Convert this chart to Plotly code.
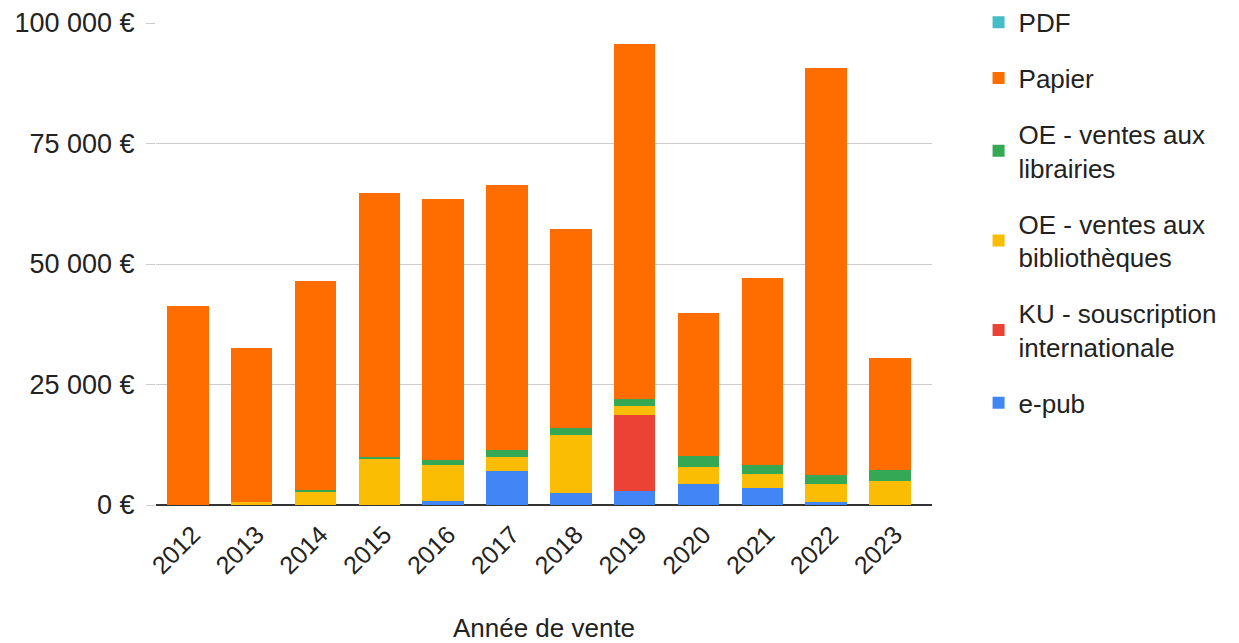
import plotly.graph_objects as go

years = ["2012", "2013", "2014", "2015", "2016", "2017",
         "2018", "2019", "2020", "2021", "2022", "2023"]

# montants en euros
epub = [0, 0, 0, 0, 800, 7050, 2400, 3000, 4400, 3500, 600, 0]
ku = [0, 0, 0, 0, 0, 0, 0, 15600, 0, 0, 0, 0]
oe_biblio = [0, 700, 2700, 9500, 7600, 2900, 12200, 1900, 3400, 2900, 3800, 4900]
oe_libr = [0, 0, 500, 500, 1000, 1400, 1400, 1500, 2400, 1900, 1900, 2400]
papier = [41300, 31900, 43300, 54700, 54100, 55050, 41300, 73600, 29600, 38800, 84400, 23200]
pdf = [0] * 12

y_ticks = [0, 25000, 50000, 75000, 100000]
y_labels = [f"{v:,}".replace(",", " ") + " €" for v in y_ticks]

series = [
    ("e-pub", epub, "#4285f4"),
    ("KU - souscription<br>internationale", ku, "#ea4335"),
    ("OE - ventes aux<br>bibliothèques", oe_biblio, "#fbbc04"),
    ("OE - ventes aux<br>librairies", oe_libr, "#34a853"),
    ("Papier", papier, "#ff6d01"),
    ("PDF", pdf, "#46bdc6"),
]

fig = go.Figure()
for i, (name, vals, color) in enumerate(series):
    fig.add_trace(go.Bar(
        x=years, y=vals, name=name,
        marker_color=color, marker_line_width=0,
        legendgroup=str(i), legendrank=len(series) - i,
    ))

fig.update_layout(
    barmode="stack",
    bargap=0.35,
    width=1231, height=635,
    margin=dict(l=148, r=307, t=15, b=138, autoexpand=False),
    paper_bgcolor="white", plot_bgcolor="white",
    font=dict(family="Liberation Sans, Arial, sans-serif", size=26, color="#222"),
    legend=dict(
        x=1.06, y=1.05, xanchor="left", yanchor="top",
        traceorder="grouped", tracegroupgap=19,
        font=dict(size=26, color="#222"),
        maxheight=700,
    ),
    showlegend=True,
)

fig.update_xaxes(
    range=[-0.5, 11.66],
    tickangle=-45,
    tickfont=dict(size=25),
    ticklabelstandoff=9,
    ticklabelshift=5,
    title=dict(text="Année de vente", font=dict(size=26), standoff=40),
    showgrid=False,
    ticks="",
)

fig.update_yaxes(
    range=[0, 100000],
    tickvals=y_ticks,
    ticktext=y_labels,
    tickfont=dict(size=27),
    ticklabelstandoff=6,
    showgrid=True, gridcolor="#cccccc", gridwidth=1,
    zeroline=True, zerolinecolor="#333333", zerolinewidth=2,
    ticks="outside", ticklen=9, tickcolor="#cccccc",
)

fig.write_html("out.html")
